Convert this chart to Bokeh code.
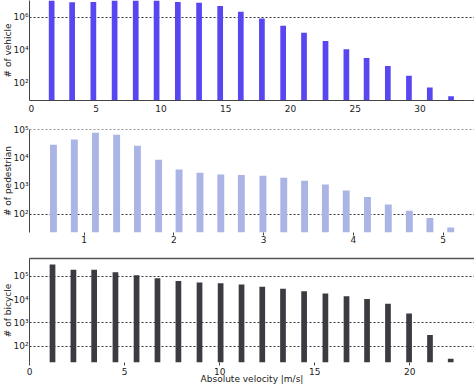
from bokeh.plotting import figure
from bokeh.layouts import column
from bokeh.models import Range1d, FixedTicker, LinearAxis
from bokeh.embed import file_html
from bokeh.resources import INLINE

# ---- data ----
veh_v = [1.56, 3.14, 4.78, 6.42, 8.05, 9.66, 11.30, 12.94, 14.57, 16.16,
         17.79, 19.43, 21.04, 22.70, 24.31, 25.87, 27.51, 29.14, 30.75, 32.39]
veh_n = [1.2e7, 7.8e6, 8.0e6, 1.3e7, 1.4e7, 1.2e7, 8.0e6, 7.4e6, 4.6e6, 2.1e6,
         8.3e5, 3.0e5, 1.12e5, 3.66e4, 1.15e4, 3410, 1120, 293, 57, 17]

ped_v = [0.657, 0.890, 1.125, 1.361, 1.593, 1.829, 2.057, 2.290, 2.522, 2.751,
         2.992, 3.224, 3.456, 3.688, 3.920, 4.157, 4.389, 4.624, 4.853, 5.085]
ped_n = [29400, 45300, 78300, 66600, 27100, 8630, 3910, 2990, 2600, 2500,
         2340, 1990, 1550, 1150, 704, 407, 224, 134, 73, 33.5]

bic_v = [1.21, 2.31, 3.40, 4.52, 5.63, 6.73, 7.83, 8.94, 10.05, 11.15,
         12.24, 13.33, 14.44, 15.56, 16.67, 17.75, 18.85, 19.96, 21.06, 22.15]
bic_n = [324000, 193000, 193000, 148000, 110000, 82300, 63100, 54000, 50400, 44300,
         35100, 28800, 23000, 18400, 13700, 10500, 6620, 2490, 300, 28.6]

veh_xticks = [0, 5, 10, 15, 20, 25, 30]
ped_xticks = [1, 2, 3, 4, 5]
bic_xticks = [0, 5, 10, 15, 20]
veh_yticks = [1e2, 1e4, 1e6]
ped_yticks = [1e2, 1e3, 1e4, 1e5]
bic_yticks = [1e2, 1e3, 1e4, 1e5]
veh_grid = [1e6]
ped_grid = [1e2, 1e5]
bic_grid = [1e2, 1e3, 1e5]
sup = {1e2: "10²", 1e3: "10³", 1e4: "10⁴", 1e5: "10⁵", 1e6: "10⁶"}

FONT = "DejaVu Sans"
AXC = "#444444"


def make(height, xr, yr, xs, ys, color, width, ytitle, xticks, yticks, grid,
         mbt, mbb, xline, tick_out, lab_standoff):
    p = figure(width=474, height=height, x_range=Range1d(*xr), y_range=Range1d(*yr),
               y_axis_type="log", output_backend="svg", toolbar_location=None,
               min_border_top=mbt, min_border_bottom=mbb, min_border_left=20,
               min_border_right=0)
    p.outline_line_color = None
    p.vbar(x=xs, top=ys, bottom=yr[0], width=width, fill_color=color,
           line_color=None)
    p.xgrid.visible = False
    p.ygrid.ticker = FixedTicker(ticks=grid)
    p.ygrid.grid_line_color = "#333333"
    p.ygrid.grid_line_dash = "2 2"
    p.ygrid.grid_line_width = 1

    ya = p.yaxis[0]
    ya.ticker = FixedTicker(ticks=yticks)
    ya.major_label_overrides = {t: sup[t] for t in yticks}
    ya.major_tick_out = 0
    ya.major_tick_in = 0
    ya.minor_tick_out = 0
    ya.minor_tick_in = 0
    ya.axis_line_color = AXC
    ya.major_label_standoff = 1
    ya.major_label_text_font = FONT
    ya.major_label_text_font_size = "9px"
    ya.major_label_text_color = "#222222"
    ya.axis_label = ytitle
    ya.axis_label_text_font = FONT
    ya.axis_label_text_font_size = "9px"
    ya.axis_label_text_font_style = "normal"
    ya.axis_label_text_color = "#222222"
    ya.axis_label_standoff = -3

    xa = p.xaxis[0]
    xa.ticker = FixedTicker(ticks=xticks)
    xa.major_tick_out = tick_out
    xa.major_tick_in = 0
    xa.minor_tick_out = 0
    xa.minor_tick_in = 0
    xa.major_tick_line_color = AXC
    xa.axis_line_color = AXC if xline else None
    xa.major_label_standoff = lab_standoff
    xa.major_label_text_font = FONT
    xa.major_label_text_font_size = "9px"
    xa.major_label_text_color = "#222222"
    return p


p1 = make(120, (-0.15, 34.2), (9.3, 1.0e7), veh_v, veh_n, "#5846f0", 0.44,
          "# of vehicle", veh_xticks, veh_yticks, veh_grid, 0, 20, True, 0, 4)
p2 = make(128, (0.39, 5.35), (22.4, 1.03e5), ped_v, ped_n, "#aab5e6", 0.077,
          "# of pedestrian", ped_xticks, ped_yticks, ped_grid, 9, 16, False, 3, 0)
p3 = make(138, (0.0, 23.4), (19.8, 5.8e5), bic_v, bic_n, "#3b3b41", 0.30,
          "# of bicycle", bic_xticks, bic_yticks, bic_grid, 10, 23, False, 3, 2)

xa3 = p3.xaxis[0]
xa3.axis_label = "Absolute velocity |m/s|"
xa3.axis_label_text_font = FONT
xa3.axis_label_text_font_size = "9px"
xa3.axis_label_text_font_style = "normal"
xa3.axis_label_text_color = "#222222"
xa3.axis_label_standoff = -4

top = LinearAxis(ticker=FixedTicker(ticks=[]), axis_line_color="#555555",
                 axis_line_width=1.5, major_tick_out=0, major_tick_in=0,
                 minor_tick_out=0, minor_tick_in=0, major_label_standoff=0)
p3.add_layout(top, "above")

layout = column(p1, p2, p3, spacing=0)
open("out.html", "w").write(file_html(layout, INLINE))
